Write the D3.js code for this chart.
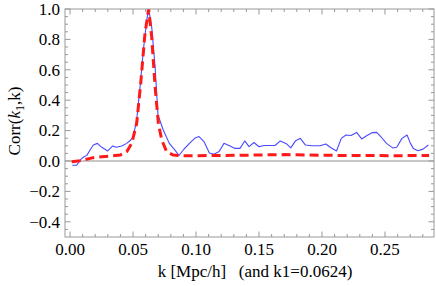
<!DOCTYPE html>
<html>
<head>
<meta charset="utf-8">
<script src="https://cdn.jsdelivr.net/npm/d3@7"></script>
<style>
  html, body { margin: 0; padding: 0; background: #fff; }
  svg { display: block; }
  text { font-family: "Liberation Serif", "Times New Roman", serif; fill: #000; }
</style>
</head>
<body>
<svg id="chart" width="436" height="286"></svg>
<script>
// Correlation of band powers with k1 = 0.0624: measured (blue) vs model (red dashed)

const measuredK = [
  0.0018, 0.0053, 0.0085, 0.0111, 0.0133, 0.0164, 0.0185, 0.0217, 0.0252, 0.0299,
  0.0339, 0.0365, 0.0410, 0.0450, 0.0482, 0.0502, 0.0529, 0.0556, 0.0582, 0.0609,
  0.0624, 0.0648, 0.0675, 0.0698, 0.0740, 0.0788, 0.0833, 0.0865, 0.0905, 0.0956,
  0.0992, 0.1024, 0.1063, 0.1106, 0.1143, 0.1183, 0.1222, 0.1270, 0.1310, 0.1349,
  0.1387, 0.1421, 0.1460, 0.1500, 0.1540, 0.1587, 0.1627, 0.1669, 0.1717, 0.1752,
  0.1791, 0.1828, 0.1869, 0.1918, 0.1984, 0.2030, 0.2071, 0.2115, 0.2153, 0.2190,
  0.2230, 0.2275, 0.2315, 0.2357, 0.2401, 0.2434, 0.2474, 0.2512, 0.2561, 0.2593,
  0.2635, 0.2675, 0.2702, 0.2725, 0.2762, 0.2802, 0.2844,
];
const measuredCorr = [
  -0.028, -0.028, 0.011, 0.028, 0.037, 0.079, 0.105, 0.116, 0.090, 0.066,
  0.099, 0.090, 0.099, 0.116, 0.138, 0.161, 0.270, 0.489, 0.730, 0.928,
  1.000, 0.884, 0.620, 0.303, 0.204, 0.116, 0.072, 0.036, 0.079, 0.122,
  0.151, 0.161, 0.128, 0.053, 0.044, 0.062, 0.116, 0.099, 0.083, 0.083,
  0.132, 0.095, 0.122, 0.094, 0.102, 0.102, 0.102, 0.132, 0.114, 0.086,
  0.134, 0.149, 0.105, 0.100, 0.100, 0.112, 0.087, 0.066, 0.149, 0.171,
  0.168, 0.188, 0.145, 0.168, 0.187, 0.188, 0.153, 0.116, 0.086, 0.090,
  0.149, 0.171, 0.116, 0.083, 0.068, 0.078, 0.105,
];

const modelK = [
  0.0013, 0.0079, 0.0185, 0.0317, 0.0397, 0.0450, 0.0490, 0.0529, 0.0561, 0.0595,
  0.0624, 0.0648, 0.0675, 0.0701, 0.0728, 0.0767, 0.0820, 0.0873, 0.1000, 0.1200,
  0.1400, 0.1600, 0.1700, 0.1800, 0.2000, 0.2200, 0.2400, 0.2600, 0.2800, 0.2850,
];
const modelCorr = [
  -0.005, 0.002, 0.022, 0.033, 0.039, 0.061, 0.116, 0.248, 0.511, 0.840,
  1.000, 0.818, 0.489, 0.248, 0.138, 0.061, 0.039, 0.035, 0.035, 0.036,
  0.038, 0.041, 0.042, 0.041, 0.038, 0.036, 0.036, 0.035, 0.036, 0.037,
];

const xTickValues = [0, 0.05, 0.10, 0.15, 0.20, 0.25];
const yTickValues = [-0.4, -0.2, 0.0, 0.2, 0.4, 0.6, 0.8, 1.0];

const svg = d3.select("#chart");

const x = d3.scaleLinear().domain([-0.004, 0.2889]).range([65, 434]);
const y = d3.scaleLinear().domain([-0.5, 1.0]).range([237, 9]);

const plotLeft = x.range()[0], plotRight = x.range()[1];
const plotTop = y.range()[1], plotBottom = y.range()[0];

svg.append("clipPath").attr("id", "plot-clip")
  .append("rect")
  .attr("x", plotLeft).attr("y", plotTop)
  .attr("width", plotRight - plotLeft).attr("height", plotBottom - plotTop);

// zero line
svg.append("line")
  .attr("x1", plotLeft).attr("x2", plotRight)
  .attr("y1", y(0)).attr("y2", y(0))
  .attr("stroke", "#b4b4b4").attr("stroke-width", 1.5);

const line = d3.line().x(d => x(d[0])).y(d => y(d[1]));

const plot = svg.append("g").attr("clip-path", "url(#plot-clip)");

plot.append("path")
  .datum(measuredK.map((k, i) => [k, measuredCorr[i]]))
  .attr("d", line)
  .attr("fill", "none")
  .attr("stroke", "#4a4aff")
  .attr("stroke-width", 1.1)
  .attr("stroke-linejoin", "round");

plot.append("path")
  .datum(modelK.map((k, i) => [k, modelCorr[i]]))
  .attr("d", line)
  .attr("fill", "none")
  .attr("stroke", "#ff1a1a")
  .attr("stroke-width", 3)
  .attr("stroke-dasharray", "9,5")
  .attr("stroke-linejoin", "round");

// frame
const frameColor = "#999";
svg.append("rect")
  .attr("x", plotLeft).attr("y", plotTop)
  .attr("width", plotRight - plotLeft).attr("height", plotBottom - plotTop)
  .attr("fill", "none").attr("stroke", frameColor).attr("stroke-width", 1);

// ticks on all four sides, pointing inward
const ticks = svg.append("g").attr("stroke", frameColor).attr("stroke-width", 1);
const xMinor = d3.range(0, 0.2889, 0.01).filter(v => Math.abs(v / 0.05 - Math.round(v / 0.05)) > 1e-6);
const yMinor = d3.range(-0.45, 1.0, 0.05).filter(v => Math.abs(v / 0.2 - Math.round(v / 0.2)) > 1e-6);

function xTick(v, len) {
  ticks.append("line").attr("x1", x(v)).attr("x2", x(v)).attr("y1", plotBottom).attr("y2", plotBottom - len);
  ticks.append("line").attr("x1", x(v)).attr("x2", x(v)).attr("y1", plotTop).attr("y2", plotTop + len);
}
function yTick(v, len) {
  ticks.append("line").attr("y1", y(v)).attr("y2", y(v)).attr("x1", plotLeft).attr("x2", plotLeft + len);
  ticks.append("line").attr("y1", y(v)).attr("y2", y(v)).attr("x1", plotRight).attr("x2", plotRight - len);
}
xTickValues.forEach(v => xTick(v, 5.5));
xMinor.forEach(v => xTick(v, 3));
yTickValues.forEach(v => yTick(v, 5.5));
yMinor.forEach(v => yTick(v, 3));

// tick labels
const fmtX = d3.format(".2f");
const fmtY = v => (v < 0 ? "\u2212" : "") + d3.format(".1f")(Math.abs(v));

svg.append("g").selectAll("text")
  .data(xTickValues).enter().append("text")
  .attr("x", d => x(d)).attr("y", 255)
  .attr("text-anchor", "middle")
  .attr("font-size", 17)
  .text(d => fmtX(d));

svg.append("g").selectAll("text")
  .data(yTickValues).enter().append("text")
  .attr("x", 60).attr("y", d => y(d) + 5.8)
  .attr("text-anchor", "end")
  .attr("font-size", 17)
  .text(d => fmtY(d));

// axis titles
svg.append("text")
  .attr("x", 255).attr("y", 277)
  .attr("text-anchor", "middle")
  .attr("font-size", 17)
  .attr("xml:space", "preserve")
  .text("k [Mpc/h]   (and k1=0.0624)");

const yl = svg.append("text")
  .attr("transform", "translate(20,121) rotate(-90)")
  .attr("text-anchor", "middle")
  .attr("font-size", 17);
yl.append("tspan").text("Corr(");
yl.append("tspan").attr("font-style", "italic").text("k");
yl.append("tspan").attr("font-size", 12).attr("dy", 4).text("1");
yl.append("tspan").attr("dy", -4).text(",k)");
</script>
</body>
</html>
